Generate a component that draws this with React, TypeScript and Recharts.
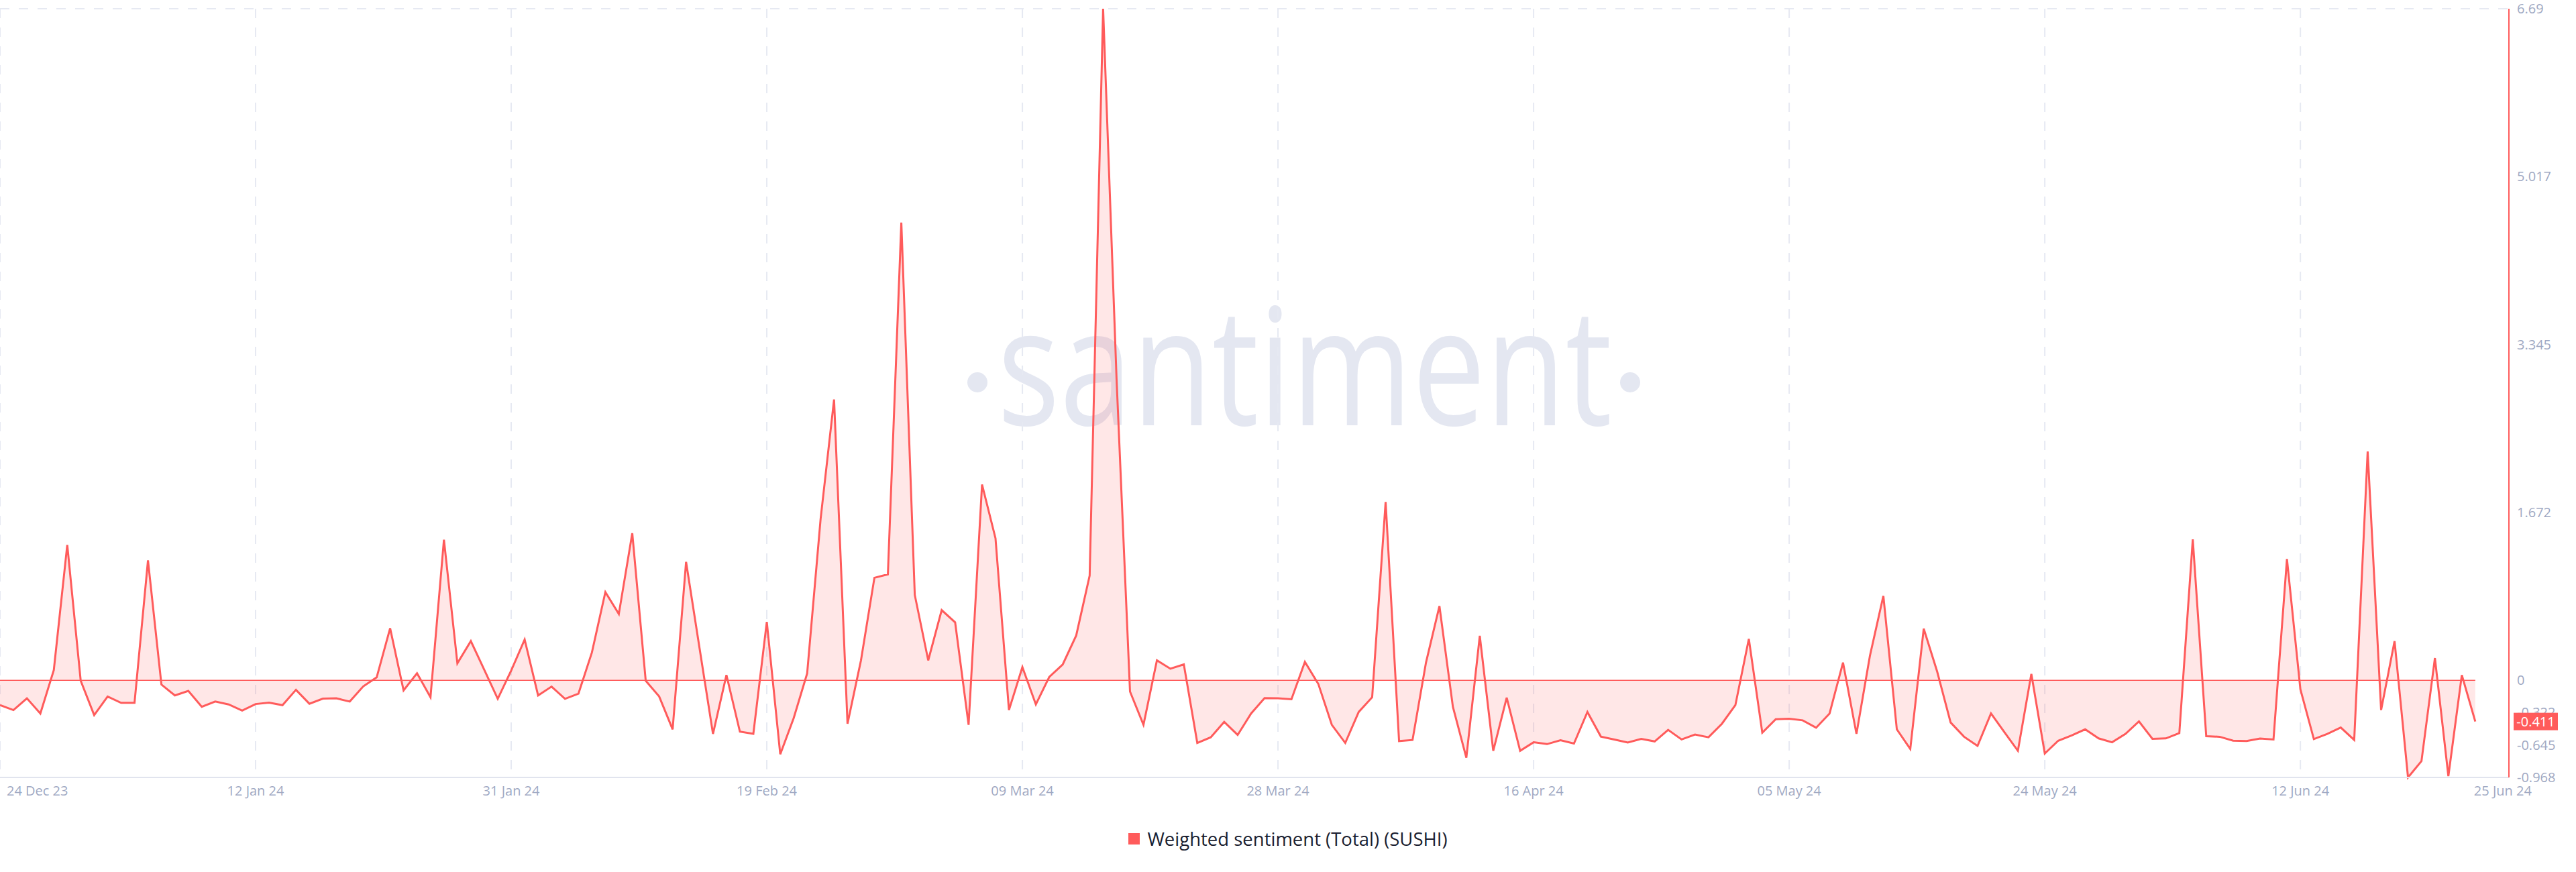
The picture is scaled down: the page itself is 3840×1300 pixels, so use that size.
import React from 'react';
import { AreaChart, Area, XAxis, YAxis, CartesianGrid, ReferenceLine, Legend } from 'recharts';

const RED = '#ff5b5b';
const AXIS_TEXT = '#a0a9c3';
const GRID = '#e6e9f2';
const FONT = "'Open Sans', 'Noto Sans', sans-serif";

// daily weighted sentiment (SUSHI), 24 Dec 23 .. 25 Jun 24
const sentiment: number[] = [
  -0.248, -0.297, -0.18, -0.331, 0.101, 1.348, -0.005, -0.347, -0.162, -0.225,
  -0.225, 1.194, -0.043, -0.151, -0.106, -0.264, -0.212, -0.241, -0.302, -0.237,
  -0.223, -0.248, -0.095, -0.234, -0.183, -0.18, -0.212, -0.061, 0.029, 0.518,
  -0.101, 0.07, -0.169, 1.4, 0.169, 0.39, 0.104, -0.185, 0.097, 0.406,
  -0.151, -0.063, -0.185, -0.133, 0.277, 0.879, 0.66, 1.465, -0.005, -0.162,
  -0.489, 1.179, 0.32, -0.534, 0.052, -0.512, -0.534, 0.581, -0.737, -0.376,
  0.068, 1.607, 2.797, -0.433, 0.198, 1.021, 1.055, 4.56, 0.85, 0.198,
  0.699, 0.577, -0.444, 1.95, 1.415, -0.297, 0.131, -0.241, 0.034, 0.158,
  0.446, 1.043, 6.69, 3.0, -0.113, -0.444, 0.198, 0.115, 0.158, -0.624,
  -0.568, -0.415, -0.545, -0.331, -0.178, -0.18, -0.189, 0.183, -0.038, -0.444,
  -0.624, -0.316, -0.169, 1.776, -0.606, -0.595, 0.176, 0.739, -0.264, -0.771,
  0.442, -0.703, -0.174, -0.703, -0.618, -0.636, -0.597, -0.631, -0.316, -0.561,
  -0.59, -0.62, -0.584, -0.609, -0.494, -0.59, -0.541, -0.568, -0.433, -0.248,
  0.412, -0.523, -0.388, -0.383, -0.399, -0.473, -0.331, 0.176, -0.534, 0.243,
  0.841, -0.489, -0.685, 0.514, 0.086, -0.421, -0.563, -0.654, -0.331, -0.518,
  -0.703, 0.063, -0.73, -0.602, -0.55, -0.489, -0.579, -0.618, -0.534, -0.41,
  -0.584, -0.579, -0.527, 1.404, -0.557, -0.563, -0.602, -0.606, -0.581, -0.59,
  1.208, -0.09, -0.586, -0.534, -0.471, -0.595, 2.279, -0.297, 0.39, -0.968,
  -0.805, 0.221, -0.955, 0.052, -0.411,
];

// x axis: days since 24 Dec 23
const tickDays = [0, 19, 38, 57, 76, 95, 114, 133, 152, 171, 184];
const tickLabels = [
  '24 Dec 23', '12 Jan 24', '31 Jan 24', '19 Feb 24', '09 Mar 24', '28 Mar 24',
  '16 Apr 24', '05 May 24', '24 May 24', '12 Jun 24', '25 Jun 24',
];
const gridDays = [0, 19, 38, 57, 76, 95, 114, 133, 152, 171];
const DAY_MAX = 186.5;

// right axis labels + evenly spaced background grid
const valueTicks = [6.69, 5.017, 3.345, 1.672, 0, -0.322, -0.645, -0.968];
const gridValues = [-0.968, -0.011, 0.947, 1.904, 2.861, 3.818, 4.776, 5.733, 6.69];

const data = sentiment.map((value, day) => ({ day, value }));
const lastDay = data.length - 1;
const lastValue = sentiment[lastDay];
const minValue = Math.min(...sentiment);
const maxValue = Math.max(...sentiment);

const DateTick = (props: any) => {
  const { x, y, payload } = props;
  const i = tickDays.indexOf(payload.value);
  const first = i === 0;
  const last = i === tickDays.length - 1;
  return (
    <text
      x={x + (first ? 10 : last ? 41 : 0)}
      y={y + 27}
      textAnchor={first ? 'start' : 'middle'}
      fill={AXIS_TEXT}
      fontSize={20}
      fontFamily={FONT}
    >
      {tickLabels[i]}
    </text>
  );
};

const ValueTick = (props: any) => {
  const { x, y, payload } = props;
  if (payload.value === lastValue) {
    // badge with the latest value
    return (
      <g>
        <rect x={x - 5} y={y - 13} width={66} height={26} fill={RED} />
        <text x={x + 28} y={y} dy="0.35em" textAnchor="middle" fill="#fff" fontSize={20} fontFamily={FONT}>
          {lastValue}
        </text>
      </g>
    );
  }
  return (
    <text x={x} y={y} dy="0.35em" fill={AXIS_TEXT} fontSize={20} fontFamily={FONT}>
      {payload.value}
    </text>
  );
};

const LegendContent = () => (
  <div style={{ display: 'flex', justifyContent: 'center', alignItems: 'center', height: 40 }}>
    <span style={{ width: 17, height: 17, background: RED, marginRight: 11, display: 'inline-block' }} />
    <span style={{ fontSize: 27.5, color: '#1a1e30', fontFamily: FONT }}>Weighted sentiment (Total) (SUSHI)</span>
  </div>
);

export default function App() {
  return (
    <div style={{ position: 'absolute', left: 0, top: 0, width: 3840, height: 1300, background: '#fff' }}>
      <svg width={3840} height={1300} style={{ position: 'absolute', left: 0, top: 0 }}>
        <circle cx={1457} cy={570} r={15} fill="#e4e7f1" />
        <text
          x={1487}
          y={634}
          fontSize={244}
          fontWeight={500}
          fontFamily="'Open Sans', 'Noto Sans', sans-serif"
          textLength={916}
          lengthAdjust="spacingAndGlyphs"
          fill="#e4e7f1"
        >
          santiment
        </text>
        <circle cx={2430} cy={570} r={15} fill="#e4e7f1" />
      </svg>
      <div style={{ position: 'absolute', left: 0, top: 0 }}>
        <AreaChart width={3840} height={1300} data={data} margin={{ top: 13, right: 0, left: 0, bottom: 30 }}>
          <CartesianGrid xAxisId="grid" yAxisId="grid" stroke={GRID} strokeWidth={2} strokeDasharray="14 14" />
          <XAxis
            dataKey="day"
            type="number"
            domain={[0, DAY_MAX]}
            ticks={tickDays}
            interval={0}
            height={71}
            tickLine={false}
            tickSize={0}
            tickMargin={0}
            axisLine={{ stroke: '#e1e4ee', strokeWidth: 2 }}
            tick={<DateTick />}
          />
          <XAxis xAxisId="grid" dataKey="day" type="number" domain={[0, DAY_MAX]} ticks={gridDays} hide />
          <YAxis
            orientation="right"
            width={100}
            domain={[minValue, maxValue]}
            ticks={[...valueTicks, lastValue]}
            interval={0}
            tickLine={false}
            tickSize={0}
            tickMargin={12}
            axisLine={{ stroke: RED, strokeWidth: 2 }}
            tick={<ValueTick />}
          />
          <YAxis yAxisId="grid" domain={[minValue, maxValue]} ticks={gridValues} hide />
          <Area
            type="linear"
            dataKey="value"
            stroke={RED}
            strokeWidth={3}
            fill={RED}
            fillOpacity={0.15}
            baseValue={0}
            dot={false}
            activeDot={false}
            isAnimationActive={false}
          />
          <ReferenceLine
            segment={[{ x: 0, y: 0 }, { x: lastDay, y: 0 }]}
            stroke={RED}
            strokeWidth={1.5}
          />
          <Legend verticalAlign="bottom" content={<LegendContent />} />
        </AreaChart>
      </div>
    </div>
  );
}
